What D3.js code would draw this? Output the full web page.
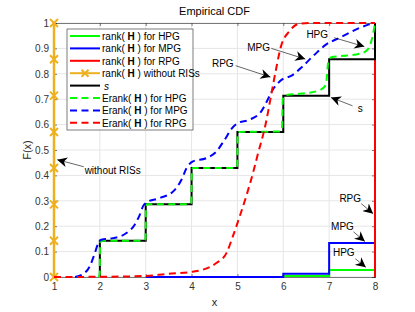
<!DOCTYPE html>
<html>
<head>
<meta charset="utf-8">
<script src="https://cdn.jsdelivr.net/npm/d3@7"></script>
<style>
  body { margin: 0; background: #fff; }
  svg { display: block; font-family: "Liberation Sans", Arial, sans-serif; }
</style>
</head>
<body>
<svg id="chart" width="415" height="312"></svg>
<script>
// stair series (x, F)
const rankHPG = [[6, 0], [6, 0.004], [7, 0.004], [7, 0.028], [8, 0.028], [8, 1]];
const rankMPG = [[3, 0], [6, 0], [6, 0.013], [7, 0.013], [7, 0.134], [8, 0.134], [8, 1]];
const rankRPG = [[8, 0], [8, 1]];
const withoutRIS = [[1, 0], [1, 1]];
const risMarkers = [0, 0.143, 0.286, 0.429, 0.571, 0.714, 0.857, 1];
const sCdf = [[2, 0], [2, 0.143], [3, 0.143], [3, 0.286], [4, 0.286], [4, 0.429],
  [5, 0.429], [5, 0.571], [6, 0.571], [6, 0.714], [7, 0.714], [7, 0.857], [8, 0.857], [8, 1]];

// smooth curves
const erankHPG = [[1.97, 0], [1.995, 0.01], [2.005, 0.135], [2.04, 0.143], [2.96, 0.143], [2.995, 0.15],
  [3.005, 0.28], [3.04, 0.286], [3.96, 0.286], [3.995, 0.293], [4.005, 0.423], [4.04, 0.429],
  [4.96, 0.429], [4.995, 0.436], [5.005, 0.566], [5.04, 0.571], [5.9, 0.573], [5.97, 0.58],
  [5.99, 0.7], [6.04, 0.715], [6.4, 0.722], [6.79, 0.735], [6.93, 0.757], [6.98, 0.845],
  [7.06, 0.866], [7.4, 0.872], [7.66, 0.879], [7.79, 0.888], [7.88, 0.908], [7.95, 0.95], [8, 1]];
const erankMPG = [[1.46, 0], [1.67, 0.016], [1.78, 0.042], [1.89, 0.094], [1.96, 0.13], [2.03, 0.147],
  [2.29, 0.153], [2.58, 0.173], [2.76, 0.206], [2.87, 0.245], [2.94, 0.278], [3.02, 0.294],
  [3.31, 0.311], [3.6, 0.337], [3.78, 0.383], [3.89, 0.429], [4.03, 0.455], [4.32, 0.468],
  [4.54, 0.494], [4.72, 0.54], [4.87, 0.583], [5.01, 0.606], [5.26, 0.619], [5.52, 0.652],
  [5.66, 0.698], [5.77, 0.737], [5.92, 0.77], [6.21, 0.796], [6.42, 0.829], [6.68, 0.875],
  [6.93, 0.915], [7.22, 0.941], [7.58, 0.974], [7.95, 1.0]];
const erankRPG = [[1, 0], [2, 0.001], [3, 0.004], [3.45, 0.012], [4, 0.02], [4.25, 0.029],
  [4.54, 0.055], [4.76, 0.094], [4.9, 0.16], [5.05, 0.239], [5.19, 0.317], [5.34, 0.41],
  [5.44, 0.48], [5.62, 0.606], [5.73, 0.711], [5.84, 0.816], [5.95, 0.908], [6.13, 0.967],
  [6.35, 0.997], [6.64, 1.0], [8, 1.0]];

const xTicks = [1, 2, 3, 4, 5, 6, 7, 8];
const yTicks = [0, 0.1, 0.2, 0.3, 0.4, 0.5, 0.6, 0.7, 0.8, 0.9, 1];

// annotations: label, text pos, arrow tail, arrow head (data coords)
const notes = [
  { label: "HPG", at: [6.74, 0.954], from: [7.11, 0.942], to: [7.77, 0.907] },
  { label: "MPG", at: [5.46, 0.903], from: [5.74, 0.9], to: [6.48, 0.858] },
  { label: "RPG", at: [4.68, 0.839], from: [4.96, 0.832], to: [5.72, 0.787] },
  { label: "s", at: [7.68, 0.663], from: [7.51, 0.674], to: [7.04, 0.707] },
  { label: "without RISs", at: [2.28, 0.419], from: [1.65, 0.434], to: [1.07, 0.462] },
  { label: "RPG", at: [7.46, 0.308], from: [7.7, 0.289], to: [7.96, 0.249] },
  { label: "MPG", at: [7.29, 0.199], from: [7.53, 0.178], to: [7.78, 0.14] },
  { label: "HPG", at: [7.32, 0.097], from: [7.57, 0.072], to: [7.8, 0.038] }
];

const orange = "#EDB120";
const svg = d3.select("#chart");
const x = d3.scaleLinear().domain([1, 8]).range([54, 375]);
const y = d3.scaleLinear().domain([0, 1]).range([277, 23]);

// grid
svg.append("g").selectAll("line").data(xTicks).join("line")
  .attr("x1", d => x(d)).attr("x2", d => x(d)).attr("y1", y(0)).attr("y2", y(1))
  .attr("stroke", "#e6e6e6").attr("stroke-width", 1);
svg.append("g").selectAll("line").data(yTicks).join("line")
  .attr("x1", x(1)).attr("x2", x(8)).attr("y1", d => y(d)).attr("y2", d => y(d))
  .attr("stroke", "#e6e6e6").attr("stroke-width", 1);

// axes
svg.append("g").attr("transform", `translate(0,${y(0)})`)
  .call(d3.axisBottom(x).tickValues(xTicks).tickSize(-3).tickPadding(6).tickFormat(d3.format("d")));
svg.append("g").attr("transform", `translate(${x(1)},0)`)
  .call(d3.axisLeft(y).tickValues(yTicks).tickSize(-3).tickPadding(5).tickFormat(d => d === 0 || d === 1 ? d : d.toFixed(1)));
svg.append("g").attr("transform", `translate(0,${y(1)})`)
  .call(d3.axisTop(x).tickValues(xTicks).tickSize(-3).tickFormat(""));
svg.append("g").attr("transform", `translate(${x(8)},0)`)
  .call(d3.axisRight(y).tickValues(yTicks).tickSize(-3).tickFormat(""));
svg.selectAll(".domain, .tick line").attr("stroke", "#262626").attr("stroke-width", 0.6);
svg.selectAll(".tick text").attr("fill", "#333").attr("font-size", 10)
  .attr("font-family", "Liberation Sans, Arial, sans-serif");

const line = d3.line().x(d => x(d[0])).y(d => y(d[1]));
const smooth = d3.line().x(d => x(d[0])).y(d => y(d[1])).curve(d3.curveMonotoneX);

const plot = svg.append("g").attr("fill", "none");
plot.append("path").datum(rankHPG).attr("d", line).attr("stroke", "#00ff00").attr("stroke-width", 2);
plot.append("path").datum(rankMPG).attr("d", line).attr("stroke", "#0000ff").attr("stroke-width", 2);
plot.append("path").datum(rankRPG).attr("d", line).attr("stroke", "#ff0000").attr("stroke-width", 2);
plot.append("path").datum(withoutRIS).attr("d", line).attr("stroke", orange).attr("stroke-width", 2.5);

const xMark = (g, cx, cy, s) => g.append("path")
  .attr("d", `M${cx - s},${cy - s}L${cx + s},${cy + s}M${cx - s},${cy + s}L${cx + s},${cy - s}`)
  .attr("stroke", orange).attr("stroke-width", 2);
risMarkers.forEach(v => xMark(plot, x(1), y(v), 4));

plot.append("path").datum(sCdf).attr("d", line).attr("stroke", "#000").attr("stroke-width", 2);
plot.append("path").datum(erankHPG).attr("d", smooth).attr("stroke", "#00ff00")
  .attr("stroke-width", 2).attr("stroke-dasharray", "7,4.5");
plot.append("path").datum(erankMPG).attr("d", smooth).attr("stroke", "#0000ff")
  .attr("stroke-width", 2).attr("stroke-dasharray", "7,4.5");
plot.append("path").datum(erankRPG).attr("d", smooth).attr("stroke", "#ff0000")
  .attr("stroke-width", 2).attr("stroke-dasharray", "7,4.5");

// annotations
svg.append("defs").append("marker").attr("id", "arr")
  .attr("viewBox", "0 0 10 10").attr("refX", 10).attr("refY", 5)
  .attr("markerWidth", 10).attr("markerHeight", 10).attr("markerUnits", "userSpaceOnUse")
  .attr("orient", "auto")
  .append("path").attr("d", "M0,0L10,5L0,10L3,5Z").attr("fill", "#000");
const ann = svg.append("g");
notes.forEach(n => {
  ann.append("line").attr("x1", x(n.from[0])).attr("y1", y(n.from[1]))
    .attr("x2", x(n.to[0])).attr("y2", y(n.to[1]))
    .attr("stroke", "#000").attr("stroke-width", 0.6).attr("marker-end", "url(#arr)");
  ann.append("text").attr("x", x(n.at[0])).attr("y", y(n.at[1]))
    .attr("text-anchor", "middle").attr("dominant-baseline", "central")
    .attr("font-size", 10).attr("fill", "#000").text(n.label);
});

// legend
const legendItems = [
  { pre: "rank( ", post: " ) for HPG", color: "#00ff00", dash: null },
  { pre: "rank( ", post: " ) for MPG", color: "#0000ff", dash: null },
  { pre: "rank( ", post: " ) for RPG", color: "#ff0000", dash: null },
  { pre: "rank( ", post: " ) without RISs", color: orange, dash: null, mark: true },
  { s: true, color: "#000", dash: null },
  { pre: "Erank( ", post: " ) for HPG", color: "#00ff00", dash: "7,4.5" },
  { pre: "Erank( ", post: " ) for MPG", color: "#0000ff", dash: "7,4.5" },
  { pre: "Erank( ", post: " ) for RPG", color: "#ff0000", dash: "7,4.5" }
];
const lg = svg.append("g").attr("transform", "translate(67,29)");
lg.append("rect").attr("width", 126).attr("height", 101).attr("fill", "#fff")
  .attr("stroke", "#262626").attr("stroke-width", 0.6);
legendItems.forEach((it, i) => {
  const cy = 7 + i * 12.4;
  lg.append("line").attr("x1", 3).attr("x2", 33).attr("y1", cy).attr("y2", cy)
    .attr("stroke", it.color).attr("stroke-width", 2)
    .attr("stroke-dasharray", it.dash);
  if (it.mark) xMark(lg, 18, cy, 3.5);
  const t = lg.append("text").attr("x", 35).attr("y", cy).attr("dominant-baseline", "central")
    .attr("font-size", 10).attr("fill", "#000");
  if (it.s) {
    t.append("tspan").attr("font-style", "italic").attr("x", 37).text("s");
  } else {
    t.append("tspan").text(it.pre);
    t.append("tspan").attr("font-weight", "bold").text("H");
    t.append("tspan").text(it.post);
  }
});

// titles
svg.append("text").attr("x", 214.5).attr("y", 15).attr("text-anchor", "middle")
  .attr("font-size", 11).attr("fill", "#000").text("Empirical CDF");
svg.append("text").attr("x", 214.5).attr("y", 306).attr("text-anchor", "middle")
  .attr("font-size", 11).attr("fill", "#262626").text("x");
svg.append("text").attr("transform", "translate(31,150) rotate(-90)").attr("text-anchor", "middle")
  .attr("font-size", 11).attr("fill", "#262626").text("F(x)");
</script>
</body>
</html>
